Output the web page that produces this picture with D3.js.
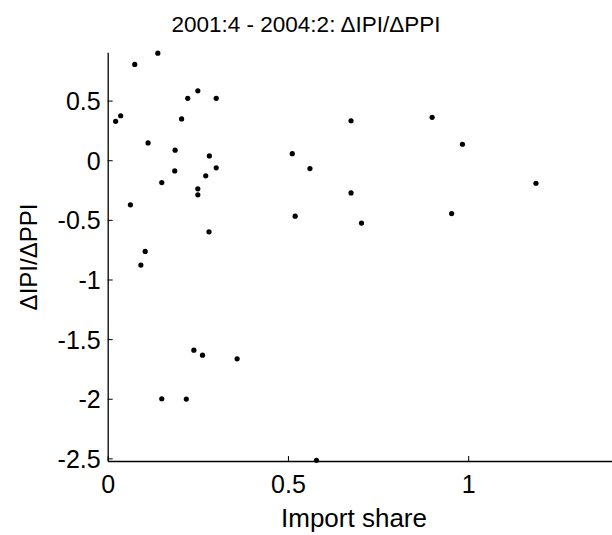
<!DOCTYPE html>
<html>
<head>
<meta charset="utf-8">
<script src="https://cdn.jsdelivr.net/npm/d3@7"></script>
<style>
  body { margin: 0; background: #fff; }
  svg { display: block; font-family: "Liberation Sans", Arial, sans-serif; }
</style>
</head>
<body>
<div id="chart"></div>
<script>
// import share (x) and change in IPI over change in PPI (y), one entry per point
var importShare = [0.022, 0.036, 0.075, 0.139, 0.112, 0.187, 0.205, 0.222, 0.250, 0.301,
                   0.282, 0.301, 0.186, 0.272, 0.150, 0.250, 0.250, 0.063, 0.512, 0.561,
                   0.520, 0.704, 0.281, 0.104, 0.092, 0.239, 0.263, 0.359, 0.150, 0.218,
                   0.579, 0.675, 0.900, 0.984, 0.675, 1.188, 0.954];
var ratio = [0.326, 0.373, 0.803, 0.898, 0.145, 0.084, 0.346, 0.519, 0.582, 0.519,
             0.036, -0.064, -0.090, -0.131, -0.187, -0.240, -0.290, -0.374, 0.055, -0.070,
             -0.469, -0.527, -0.600, -0.765, -0.879, -1.593, -1.635, -1.665, -2.000, -2.003,
             -2.516, 0.331, 0.360, 0.134, -0.274, -0.193, -0.447];
var xTicks = [0, 0.5, 1];
var yTicks = [-2.5, -2, -1.5, -1, -0.5, 0, 0.5];
var title = '2001:4 - 2004:2: \u0394IPI/\u0394PPI';

var width = 612;
var height = 535;

var x = d3.scaleLinear()
          .domain([0, 1.4])
          .range([107.7, 612.4]);

var y = d3.scaleLinear()
          .domain([-2.522, 0.905])
          .range([461, 52.3]);

var svg = d3.select('#chart')
            .append('svg')
            .attr('width', width)
            .attr('height', height);

// axes: MATLAB style, ticks pointing inward, no box
var xAxis = d3.axisBottom(x)
              .tickValues(xTicks)
              .tickFormat(d3.format('~g'))
              .tickSizeInner(-5)
              .tickSizeOuter(0)
              .tickPadding(12);

var yAxis = d3.axisLeft(y)
              .tickValues(yTicks)
              .tickFormat(function (d) { return String(d); })
              .tickSizeInner(-5)
              .tickSizeOuter(0)
              .tickPadding(12);

var gx = svg.append('g')
            .attr('transform', 'translate(0,' + y.range()[0] + ')')
            .call(xAxis);

var gy = svg.append('g')
            .attr('transform', 'translate(' + x.range()[0] + ',0)')
            .call(yAxis);

[gx, gy].forEach(function (g) {
  g.select('.domain').attr('stroke', '#000').attr('stroke-width', 1.3);
  g.selectAll('.tick line').attr('stroke', '#000').attr('stroke-width', 1);
  g.selectAll('.tick text')
    .attr('fill', '#000')
    .attr('font-size', 25)
    .attr('font-family', '"Liberation Sans", Arial, sans-serif');
});

gy.selectAll('.tick text').attr('x', -7).attr('dy', '0.36em');
gx.selectAll('.tick text').attr('y', 14).attr('dy', '0.71em');

// points
svg.append('g')
   .selectAll('circle')
   .data(importShare)
   .enter()
   .append('circle')
     .attr('cx', function (d) { return x(d); })
     .attr('cy', function (d, i) { return y(ratio[i]); })
     .attr('r', 2.6)
     .attr('fill', '#000');

// title
svg.append('text')
   .attr('x', 306)
   .attr('y', 32)
   .attr('text-anchor', 'middle')
   .attr('font-size', 22.5)
   .attr('fill', '#000')
   .text(title);

// x label
svg.append('text')
   .attr('x', 354)
   .attr('y', 527)
   .attr('text-anchor', 'middle')
   .attr('font-size', 26)
   .attr('fill', '#000')
   .text('Import share');

// y label
svg.append('text')
   .attr('text-anchor', 'middle')
   .attr('transform', 'translate(37,257)rotate(-90)')
   .attr('font-size', 24)
   .attr('fill', '#000')
   .text('\u0394IPI/\u0394PPI');
</script>
</body>
</html>
